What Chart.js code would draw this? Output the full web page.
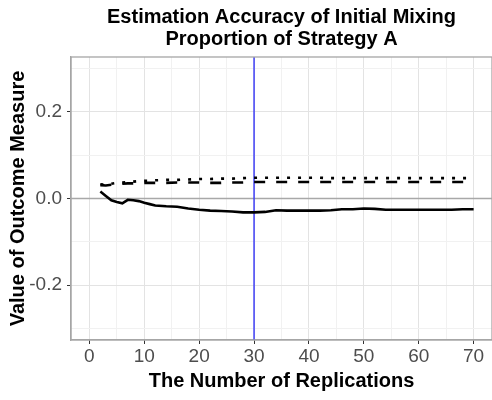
<!DOCTYPE html>
<html>
<head>
<meta charset="utf-8">
<script src="https://cdn.jsdelivr.net/npm/chart.js@4/dist/chart.umd.min.js"></script>
<style>
  html, body { margin: 0; padding: 0; background: #fff; }
  #wrap { width: 492px; height: 400px; }
</style>
</head>
<body>
<div id="wrap"><canvas id="c"></canvas></div>
<script>
// Estimation accuracy vs number of replications
const TITLE_LINES = ['Estimation Accuracy of Initial Mixing', 'Proportion of Strategy A'];
const X_TITLE = 'The Number of Replications';
const Y_TITLE = 'Value of Outcome Measure';

const reps = [2, 3, 4, 5, 6, 7, 8, 9, 10, 11, 12, 14, 16, 18, 20, 22, 24, 26, 28, 30,
  32, 34, 36, 38, 40, 42, 44, 46, 48, 50, 52, 54, 56, 58, 60, 62, 64, 66, 68, 70];

const solidSeries = [0.016, 0.006, -0.004, -0.008, -0.011, -0.003, -0.004, -0.006, -0.010, -0.013,
  -0.016, -0.018, -0.019, -0.023, -0.026, -0.028, -0.029, -0.030, -0.032, -0.032,
  -0.031, -0.027, -0.028, -0.028, -0.028, -0.028, -0.027, -0.025, -0.025, -0.023,
  -0.024, -0.026, -0.026, -0.026, -0.026, -0.026, -0.026, -0.026, -0.025, -0.025];

const dashedSeries = [0.031, 0.030, 0.032, 0.033, 0.034, 0.035, 0.035, 0.035, 0.036, 0.036,
  0.036, 0.036, 0.037, 0.037, 0.037, 0.036, 0.036, 0.037, 0.037, 0.038,
  0.038, 0.038, 0.038, 0.038, 0.038, 0.038, 0.038, 0.038, 0.038, 0.038,
  0.038, 0.038, 0.038, 0.038, 0.038, 0.038, 0.038, 0.038, 0.038, 0.038];

const dottedSeries = [0.033, 0.032, 0.034, 0.036, 0.037, 0.038, 0.039, 0.040, 0.041, 0.041,
  0.042, 0.043, 0.043, 0.044, 0.045, 0.045, 0.046, 0.046, 0.047, 0.048,
  0.048, 0.048, 0.048, 0.048, 0.048, 0.048, 0.047, 0.047, 0.047, 0.047,
  0.047, 0.047, 0.047, 0.047, 0.047, 0.047, 0.047, 0.047, 0.047, 0.047];

const xTicks = [0, 5, 10, 15, 20, 25, 30, 35, 40, 45, 50, 55, 60, 65, 70];
const xLabelTicks = [0, 10, 20, 30, 40, 50, 60, 70];
const yTicks = [-0.3, -0.2, -0.1, 0, 0.1, 0.2, 0.3];
const yLabelTicks = [-0.2, 0, 0.2];
const X_RANGE = [-3.35, 73.35];
const Y_RANGE = [-0.327, 0.327];
const VLINE_X = 30;
const HLINE_Y = 0;

const FONT = "'Liberation Sans', Arial, sans-serif";
const TICK_COLOR = '#4d4d4d';
const MAJOR_GRID = '#e3e3e3';
const MINOR_GRID = '#f1f1f1';
const BORDER_COLOR = '#a6a6a6';

const isLabel = (list, v) => list.some((t) => Math.abs(t - v) < 1e-9);
const pts = (ys) => reps.map((x, i) => ({ x, y: ys[i] }));

const lineStyle = {
  borderColor: '#000',
  borderWidth: 2.6,
  pointRadius: 0,
  fill: false,
  tension: 0,
  borderCapStyle: 'butt',
};

const framePlugin = {
  id: 'frame',
  beforeDatasetsDraw(chart) {
    const { ctx, chartArea: a, scales } = chart;
    ctx.save();
    ctx.beginPath();
    ctx.rect(a.left, a.top, a.right - a.left, a.bottom - a.top);
    ctx.clip();
    const y0 = scales.y.getPixelForValue(HLINE_Y);
    ctx.strokeStyle = '#a8a8a8';
    ctx.lineWidth = 1.5;
    ctx.beginPath();
    ctx.moveTo(a.left, y0);
    ctx.lineTo(a.right, y0);
    ctx.stroke();
    const x0 = scales.x.getPixelForValue(VLINE_X);
    ctx.strokeStyle = '#3f3ff5';
    ctx.lineWidth = 1.5;
    ctx.beginPath();
    ctx.moveTo(x0, a.top);
    ctx.lineTo(x0, a.bottom);
    ctx.stroke();
    ctx.restore();
  },
  afterDraw(chart) {
    const { ctx, chartArea: a } = chart;
    ctx.save();
    ctx.strokeStyle = BORDER_COLOR;
    ctx.lineWidth = 1.3;
    ctx.strokeRect(a.left, a.top, a.right - a.left, a.bottom - a.top);
    // title, centred over the panel
    ctx.fillStyle = '#000';
    ctx.font = `bold 20px ${FONT}`;
    ctx.textAlign = 'center';
    ctx.textBaseline = 'alphabetic';
    const cx = (a.left + a.right) / 2;
    TITLE_LINES.forEach((line, i) => ctx.fillText(line, cx, 23 + i * 22));
    ctx.restore();
  },
};

new Chart(document.getElementById('c'), {
  type: 'line',
  data: {
    datasets: [
      { ...lineStyle, label: 'solid', data: pts(solidSeries) },
      { ...lineStyle, label: 'dashed', data: pts(dashedSeries), borderDash: [11, 11] },
      { ...lineStyle, label: 'dotted', data: pts(dottedSeries), borderDash: [3, 8] },
    ],
  },
  options: {
    responsive: true,
    maintainAspectRatio: false,
    animation: false,
    layout: { padding: { top: 57, right: 0, left: 0, bottom: 0 } },
    plugins: {
      legend: { display: false },
      tooltip: { enabled: false },
    },
    scales: {
      x: {
        type: 'linear',
        min: X_RANGE[0],
        max: X_RANGE[1],
        afterBuildTicks: (s) => { s.ticks = xTicks.map((v) => ({ value: v })); },
        afterFit: (s) => { s.height = 60; },
        grid: {
          color: (c) => (isLabel(xLabelTicks, c.tick.value) ? MAJOR_GRID : MINOR_GRID),
          tickColor: (c) => (isLabel(xLabelTicks, c.tick.value) ? '#333' : 'rgba(0,0,0,0)'),
          tickLength: 4,
          lineWidth: 1,
        },
        border: { display: true, color: BORDER_COLOR, width: 1.3 },
        ticks: {
          color: TICK_COLOR,
          font: { family: FONT, size: 19 },
          padding: 1,
          maxRotation: 0,
          autoSkip: false,
          callback: (v) => (isLabel(xLabelTicks, v) ? String(v) : ''),
        },
        title: {
          display: true,
          text: X_TITLE,
          color: '#000',
          font: { family: FONT, size: 20, weight: 'bold' },
          padding: { top: 7, bottom: 7 },
        },
      },
      y: {
        type: 'linear',
        min: Y_RANGE[0],
        max: Y_RANGE[1],
        afterBuildTicks: (s) => { s.ticks = yTicks.map((v) => ({ value: v })); },
        afterFit: (s) => { s.width = 71; },
        grid: {
          color: (c) => (isLabel(yLabelTicks, c.tick.value) ? MAJOR_GRID : MINOR_GRID),
          tickColor: (c) => (isLabel(yLabelTicks, c.tick.value) ? '#333' : 'rgba(0,0,0,0)'),
          tickLength: 4,
          lineWidth: 1,
        },
        border: { display: true, color: BORDER_COLOR, width: 1.3 },
        ticks: {
          color: TICK_COLOR,
          font: { family: FONT, size: 19 },
          padding: 5,
          autoSkip: false,
          callback: (v) => (isLabel(yLabelTicks, v) ? v.toFixed(1) : ''),
        },
        title: {
          display: true,
          text: Y_TITLE,
          color: '#000',
          font: { family: FONT, size: 20, weight: 'bold' },
          padding: { top: 6, bottom: 6 },
        },
      },
    },
  },
  plugins: [framePlugin],
});
</script>
</body>
</html>
